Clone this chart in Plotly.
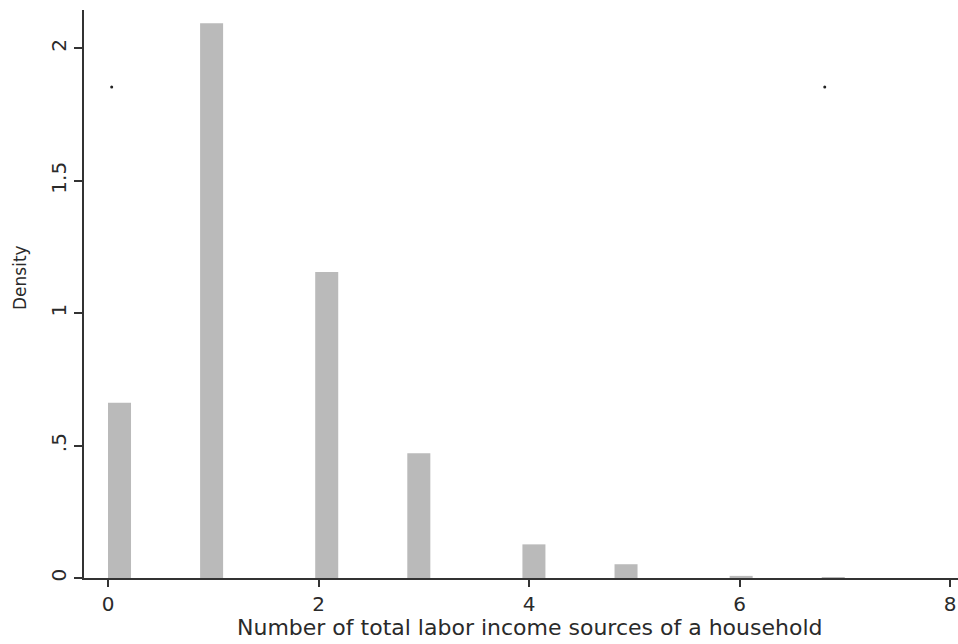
import math
import plotly.graph_objects as go

# Histogram of the number of labour income sources per household (density scale)
n_sources = [0, 1, 2, 3, 4, 5, 6, 7]
density = [0.662, 2.095, 1.156, 0.471, 0.127, 0.052, 0.008, 0.003]

x_tick_vals = [0, 2, 4, 6, 8]
y_tick_vals = [0, 0.5, 1, 1.5, 2]
y_tick_text = ["0", ".5", "1", "1.5", "2"]

# two small stray dots in the plot region
speck_x = [0.035, 6.81]
speck_y = [1.854, 1.854]

x_title = "Number of total labor income sources of a household"
y_title = "Density"

# histogram bins: 32 equal bins across the observed range
n_bins = 32
lo, hi = min(n_sources), max(n_sources)
bin_width = (hi - lo) / n_bins
bin_index = [min(int(math.floor((v - lo) / bin_width + 1e-9)), n_bins - 1) for v in n_sources]
bin_center = [lo + (k + 0.5) * bin_width for k in bin_index]

FONT = "DejaVu Sans"
INK = "#2a2a2a"

fig = go.Figure()
fig.add_trace(go.Bar(
    x=bin_center,
    y=density,
    width=[bin_width] * len(bin_center),
    marker=dict(color="#bababa", line=dict(width=0)),
    showlegend=False,
    hoverinfo="x+y",
))
fig.add_trace(go.Scatter(
    x=speck_x, y=speck_y, mode="markers",
    marker=dict(size=3, color="#222222"),
    showlegend=False, hoverinfo="skip",
))

fig.update_layout(
    width=958, height=644,
    margin=dict(l=84, r=0, t=10, b=66),
    paper_bgcolor="white",
    plot_bgcolor="white",
    font=dict(family=FONT, color=INK),
    xaxis=dict(
        range=[-0.228, 8.076],
        tickmode="array", tickvals=x_tick_vals,
        ticks="outside", ticklen=7, tickwidth=1.5, tickcolor="#333333",
        showline=True, linecolor="#333333", linewidth=1.5,
        showgrid=False, zeroline=False,
        tickfont=dict(family=FONT, size=20, color=INK),
        ticklabeloverflow="allow",
        automargin=False,
    ),
    yaxis=dict(
        range=[0, 2.145],
        tickmode="array", tickvals=y_tick_vals, ticktext=y_tick_text,
        tickangle=-90,
        ticks="outside", ticklen=8, tickwidth=1.5, tickcolor="#333333",
        showline=True, linecolor="#333333", linewidth=1.5,
        showgrid=False, zeroline=False,
        tickfont=dict(family=FONT, size=20, color=INK),
        ticklabeloverflow="allow",
        automargin=False,
    ),
    annotations=[
        dict(text=x_title, xref="paper", yref="paper",
             x=(530 - 84) / 874, y=(578 - 627) / 568,
             xanchor="center", yanchor="middle", showarrow=False,
             font=dict(family=FONT, size=22, color=INK)),
        dict(text=y_title, xref="paper", yref="paper",
             x=(20 - 84) / 874, y=(578 - 278) / 568,
             xanchor="center", yanchor="middle", showarrow=False,
             textangle=-90,
             font=dict(family=FONT, size=17, color=INK)),
    ],
)

fig.write_html("out.html")
